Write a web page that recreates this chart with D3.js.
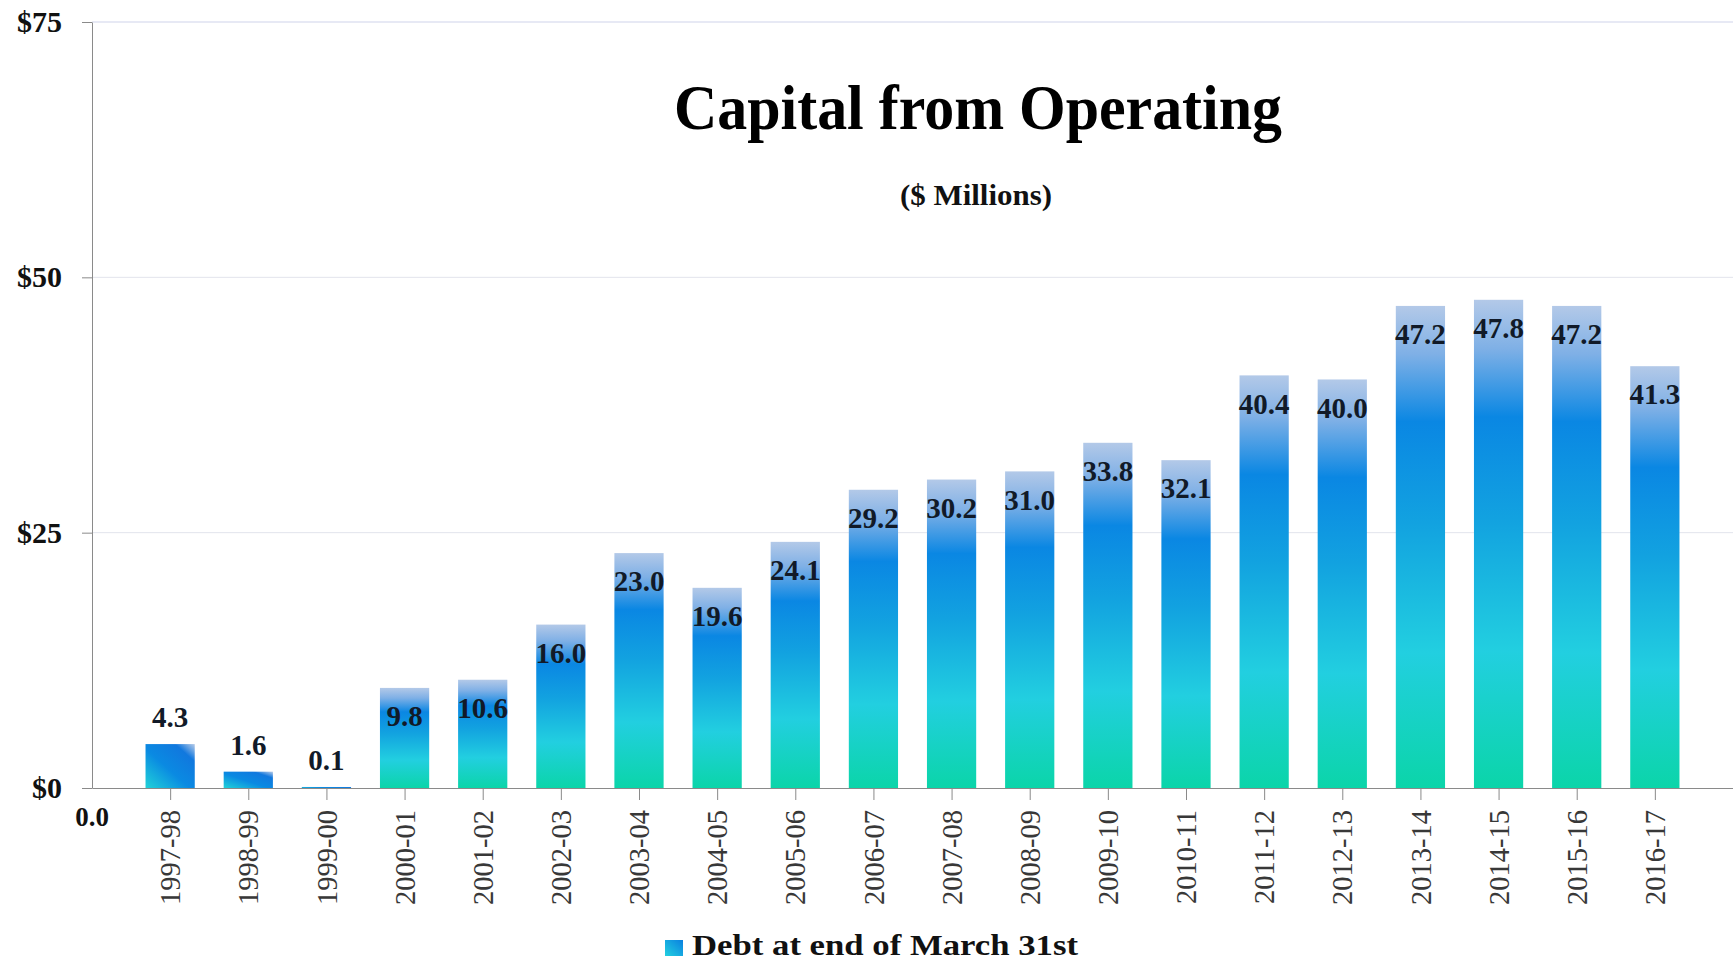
<!DOCTYPE html>
<html>
<head>
<meta charset="utf-8">
<script src="https://cdn.jsdelivr.net/npm/d3@7"></script>
<style>
  body { margin: 0; background: #fff; }
  svg { display: block; font-family: "Liberation Serif", "DejaVu Serif", serif; }
</style>
</head>
<body>
<div id="chart"></div>
<script>
// fiscal years and capital from operating ($ millions)
var periods = ["1997-98", "1998-99", "1999-00", "2000-01", "2001-02", "2002-03", "2003-04",
               "2004-05", "2005-06", "2006-07", "2007-08", "2008-09", "2009-10", "2010-11",
               "2011-12", "2012-13", "2013-14", "2014-15", "2015-16", "2016-17"];
var values = [4.3, 1.6, 0.1, 9.8, 10.6, 16.0, 23.0, 19.6, 24.1, 29.2, 30.2, 31.0, 33.8, 32.1,
              40.4, 40.0, 47.2, 47.8, 47.2, 41.3];
var yTicks = [0, 25, 50, 75];
var seriesName = "Debt at end of March 31st";

var width = 1733, height = 960;
var plotLeft = 92, plotRight = 1733, plotTop = 22, plotBottom = 788;

var svg = d3.select("#chart").append("svg")
    .attr("width", width)
    .attr("height", height);

// bar fill: light steel top, strong blue, cyan, teal at base
var defs = svg.append("defs");
var grad = defs.append("linearGradient")
    .attr("id", "barFill")
    .attr("x1", 0).attr("y1", 0).attr("x2", 0).attr("y2", 1);
[[0, "#b3c9e8"], [0.1, "#7fb0e6"], [0.24, "#0a87e3"], [0.45, "#12a2e0"],
 [0.72, "#22cfe0"], [1, "#0bd5a9"]].forEach(function(s){
    grad.append("stop").attr("offset", s[0]).attr("stop-color", s[1]);
});
// the very short bars look like a diagonal blue/cyan sweep
var smallGrad = defs.append("linearGradient")
    .attr("id", "smallFill")
    .attr("x1", 0).attr("y1", 1).attr("x2", 1).attr("y2", 0);
[[0, "#20d2d8"], [0.45, "#0a8ae2"], [0.8, "#1178de"], [1, "#b8cbe8"]].forEach(function(s){
    smallGrad.append("stop").attr("offset", s[0]).attr("stop-color", s[1]);
});
var legGrad = defs.append("linearGradient")
    .attr("id", "legFill")
    .attr("x1", 0).attr("y1", 1).attr("x2", 1).attr("y2", 0);
legGrad.append("stop").attr("offset", 0).attr("stop-color", "#22d0e0");
legGrad.append("stop").attr("offset", 1).attr("stop-color", "#0a80e0");

// linear x so that categories sit at 1..20 and 0 is the origin
var x = d3.scaleLinear().domain([0, periods.length + 1]).range([plotLeft, plotRight]);
var y = d3.scaleLinear().domain([0, 75]).range([plotBottom, plotTop]);
var step = x(1) - x(0);
var barW = step * 0.63;

// gridlines
svg.append("g")
    .selectAll("line")
    .data(yTicks.filter(function(d){ return d > 0; }))
    .enter().append("line")
    .attr("x1", plotLeft).attr("x2", plotRight)
    .attr("y1", function(d){ return y(d); })
    .attr("y2", function(d){ return y(d); })
    .attr("stroke", function(d){ return d == 75 ? "#cfd3ea" : "#e2e4ec"; })
    .attr("stroke-width", 1);

// bars
svg.append("g")
    .selectAll("rect")
    .data(values)
    .enter().append("rect")
    .attr("x", function(d, i){ return x(i + 1) - barW / 2; })
    .attr("y", function(d){ return y(d); })
    .attr("width", barW)
    .attr("height", function(d){ return y(0) - y(d); })
    .attr("fill", function(d){ return d < 8 ? "url(#smallFill)" : "url(#barFill)"; });

// y axis
var yAxis = svg.append("g")
    .attr("transform", "translate(" + plotLeft + ",0)")
    .call(d3.axisLeft(y).tickValues(yTicks).tickFormat(function(d){ return "$" + d; })
        .tickSize(10).tickSizeOuter(0).tickPadding(20));
yAxis.selectAll("path, line").attr("stroke", "#8a8a8a");
yAxis.selectAll("text")
    .attr("fill", "#111")
    .style("font-size", "30px")
    .style("font-weight", "bold")
    .style("font-family", "Liberation Serif, serif");

// x axis
var xAxis = svg.append("g")
    .attr("transform", "translate(0," + plotBottom + ")")
    .call(d3.axisBottom(x).tickValues(d3.range(1, periods.length + 1))
        .tickFormat(function(i){ return periods[i - 1]; })
        .tickSize(12).tickSizeOuter(0));
xAxis.selectAll("path, line").attr("stroke", "#8a8a8a");
xAxis.selectAll("text")
    .attr("fill", "#383838")
    .attr("text-anchor", "end")
    .attr("transform", "rotate(-90)")
    .attr("x", -22)
    .attr("y", 0)
    .attr("dy", "0.34em")
    .style("font-size", "28.5px")
    .style("font-family", "Liberation Serif, serif");

// origin label under the axis corner
svg.append("text")
    .attr("x", x(0))
    .attr("y", plotBottom + 38)
    .attr("text-anchor", "middle")
    .attr("fill", "#111")
    .style("font-size", "27px")
    .style("font-weight", "bold")
    .text("0.0");

// value labels: above tiny bars, inside the top of the rest
svg.append("g")
    .selectAll("text")
    .data(values)
    .enter().append("text")
    .attr("x", function(d, i){ return x(i + 1); })
    .attr("y", function(d){ return d < 5 ? y(d) - 27 : y(d) + 28; })
    .attr("dy", "0.35em")
    .attr("text-anchor", "middle")
    .attr("fill", "#111a28")
    .style("font-size", "29px")
    .style("font-weight", "bold")
    .text(function(d){ return d3.format(".1f")(d); });

// titles
svg.append("text")
    .attr("x", 978).attr("y", 129)
    .attr("text-anchor", "middle")
    .attr("textLength", 608)
    .attr("lengthAdjust", "spacingAndGlyphs")
    .attr("fill", "#000")
    .style("font-size", "64px")
    .style("font-weight", "bold")
    .text("Capital from Operating");

svg.append("text")
    .attr("x", 976).attr("y", 205)
    .attr("text-anchor", "middle")
    .attr("textLength", 152)
    .attr("lengthAdjust", "spacingAndGlyphs")
    .attr("fill", "#111")
    .style("font-size", "30px")
    .style("font-weight", "bold")
    .text("($ Millions)");

// legend
var legend = svg.append("g");
legend.append("rect")
    .attr("x", 665).attr("y", 940)
    .attr("width", 18).attr("height", 16)
    .attr("fill", "url(#legFill)");
legend.append("text")
    .attr("x", 692).attr("y", 955)
    .attr("textLength", 386)
    .attr("lengthAdjust", "spacingAndGlyphs")
    .attr("fill", "#111")
    .style("font-size", "29px")
    .style("font-weight", "bold")
    .text(seriesName);
</script>
</body>
</html>
